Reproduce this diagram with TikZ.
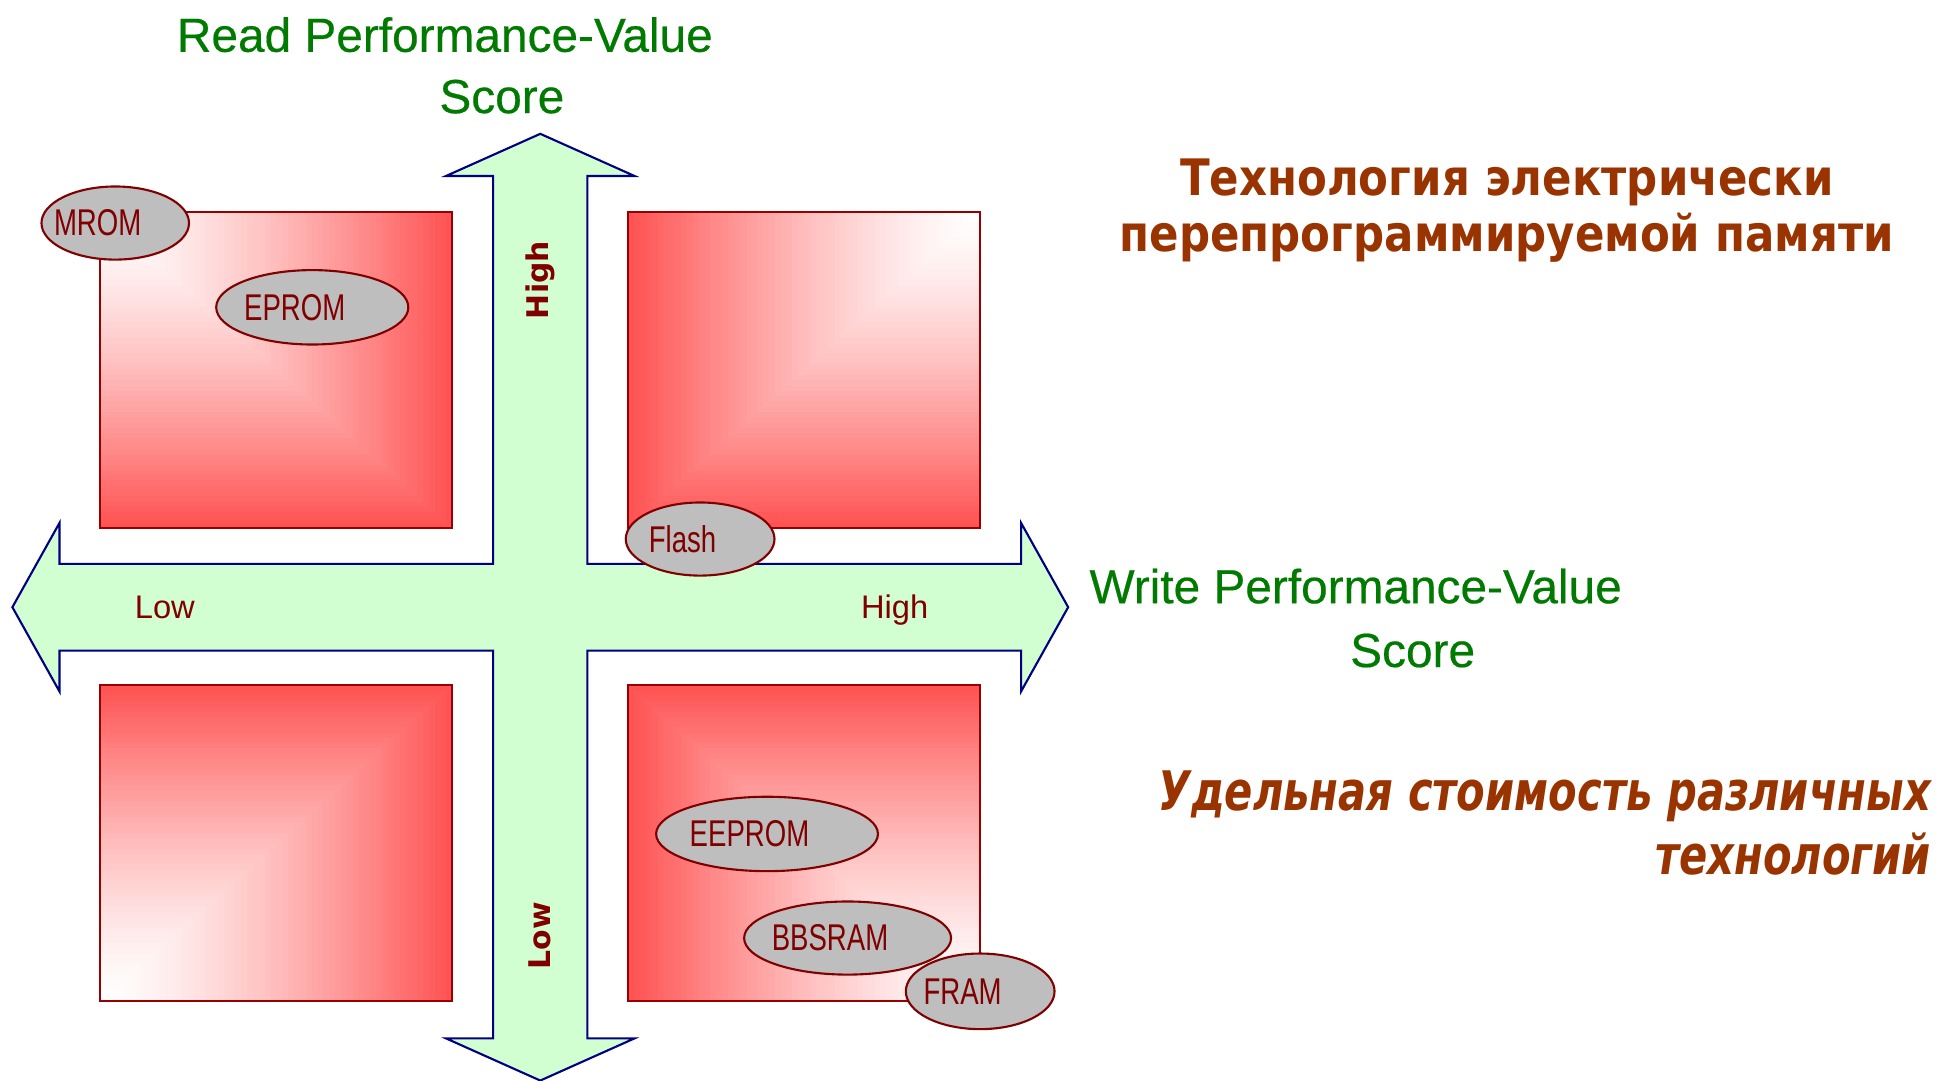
\documentclass[tikz,border=0pt]{standalone}
\usepackage{fontspec}
\setmainfont{Liberation Sans}
\newfontfamily\rusfont[FakeStretch=0.865]{DejaVu Sans}
\newfontfamily\russlant[FakeStretch=0.765]{DejaVu Sans}
\newfontfamily\axisfont{DejaVu Sans}
\newfontfamily\ovalfont[FakeStretch=0.74]{Liberation Sans}
\newfontfamily\scorefont[FakeBold=0.4]{Liberation Sans}
\usepackage{tikz}
\usetikzlibrary{shapes.geometric}
\usetikzlibrary{calc}

\definecolor{scoregreen}{RGB}{0,122,0}
\definecolor{rusbrown}{RGB}{153,51,0}
\definecolor{tagred}{RGB}{128,0,0}
\definecolor{crossfill}{RGB}{210,255,210}
\definecolor{crossline}{RGB}{0,0,128}
\definecolor{quadred}{RGB}{255,82,82}
\definecolor{quadedge}{RGB}{150,0,0}
\definecolor{ovalgray}{RGB}{190,190,190}

% square fading from white corner (#1,#2) to red corner (#3,#4)
\newcommand{\cornerfade}[4]{%
	\foreach \k [evaluate=\k as \pct using 100*(\k/60)^1.4] in {60,...,1}
		\fill[quadred!\pct!white] (#1,#2) rectangle ($(#1,#2)!\k/60!(#3,#4)$);
	\draw[quadedge, line width=0.6pt] (#1,#2) rectangle (#3,#4);
}

\begin{document}
\begin{tikzpicture}[x=0.012392cm, y=-0.012392cm,
							oval/.style={ellipse, draw=tagred, line width=0.6pt, fill=ovalgray, inner sep=0pt, text=tagred, font=\ovalfont\fontsize{10.6}{11}\selectfont, execute at begin node={\hspace*{-10pt}}},
							axislabel/.style={text=tagred, font=\fontsize{9.3}{10}\selectfont},
							axisbold/.style={text=tagred, rotate=90, font=\axisfont\bfseries\fontsize{8.5}{10}\selectfont},
							scorelabel/.style={text=scoregreen, font=\scorefont\fontsize{13.6}{16}\selectfont},
							]
							\useasboundingbox (0,0) rectangle (1568,872);

							%Cross arrow
							\draw[fill=crossfill, draw=crossline, line width=0.6pt] (436,108) -- (512,142) -- (474,142) -- (474,455) -- (824,455) -- (824,422) -- (862,490) -- (824,558) -- (824,525) -- (474,525) -- (474,838) -- (512,838) -- (436,872) -- (360,838) -- (398,838) -- (398,525) -- (48,525) -- (48,558) -- (10,490) -- (48,422) -- (48,455) -- (398,455) -- (398,142) -- (360,142) -- cycle;

							%Quadrants
							\cornerfade{81}{171}{365}{426}
							\cornerfade{791}{171}{507}{426}
							\cornerfade{81}{808}{365}{553}
							\cornerfade{791}{808}{507}{553}

							%Axis labels
							\node[axisbold]       (readhigh)   at (436,226)   {High};
							\node[axisbold]       (readlow)    at (436,755)   {Low};
							\node[axislabel]      (writelow)   at (133,490)   {Low};
							\node[axislabel]      (writehigh)  at (722,492)   {High};

							%Memory types
							\node[oval, minimum width=1.475cm, minimum height=0.731cm] (mrom)   at (93,180)  {MROM};
							\node[oval, minimum width=1.921cm, minimum height=0.744cm] (eprom)  at (252,248) {EPROM};
							\node[oval, minimum width=1.487cm, minimum height=0.731cm] (flash)  at (565,435) {Flash};
							\node[oval, minimum width=2.218cm, minimum height=0.744cm] (eeprom) at (619,673) {EEPROM};
							\node[oval, minimum width=2.069cm, minimum height=0.731cm] (bbsram) at (684,757) {BBSRAM};
							\node[oval, minimum width=1.487cm, minimum height=0.756cm] (fram)   at (791,800) {FRAM};

							%Titles
							\node[scorelabel]     (readline)   at (359,28)    {Read Performance-Value};
							\node[scorelabel]     (readscore)  at (405,78)    {Score};
							\node[scorelabel]     (writeline)  at (1094,473)  {Write Performance-Value};
							\node[scorelabel]     (writescore) at (1140,525)  {Score};

							\node[text=rusbrown, align=center, font=\rusfont\bfseries\fontsize{14.3}{15.8}\selectfont] (techtitle) at (1216,170) {Технология электрически\\перепрограммируемой памяти};
							\node[text=rusbrown, align=right, anchor=east, inner sep=0pt, font=\russlant\bfseries\itshape\fontsize{15.5}{18.3}\selectfont] (costtitle) at (1559,664) {Удельная стоимость различных\\технологий};
\end{tikzpicture}
\end{document}
